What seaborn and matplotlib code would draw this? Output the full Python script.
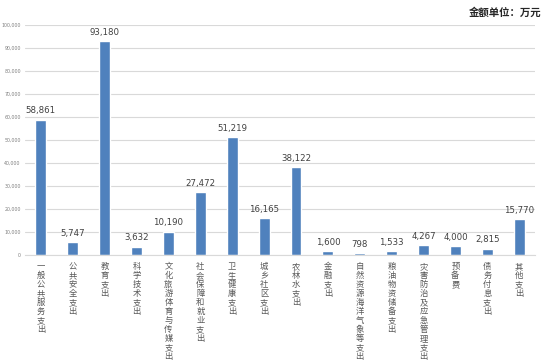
import matplotlib
matplotlib.use("Agg")
import matplotlib.pyplot as plt
import seaborn as sns
import pandas as pd
from matplotlib.ticker import FuncFormatter

categories = ["一般公共服务支出", "公共安全支出", "教育支出", "科学技术支出",
              "文化旅游体育与传媒支出", "社会保障和就业支出", "卫生健康支出", "城乡社区支出",
              "农林水支出", "金融支出", "自然资源海洋气象等支出", "粮油物资储备支出",
              "灾害防治及应急管理支出", "预备费", "债务付息支出", "其他支出"]
values = [58861, 5747, 93180, 3632, 10190, 27472, 51219, 16165,
          38122, 1600, 798, 1533, 4267, 4000, 2815, 15770]
yticks = list(range(0, 100001, 10000))

sns.set_theme(style="white")
plt.rcParams['font.family'] = ['Noto Sans CJK SC', 'DejaVu Sans']

df = pd.DataFrame({"cat": categories, "val": values})

fig = plt.figure(figsize=(5.54, 3.6), dpi=100)
ax = fig.add_axes([0.045, 0.2917, 0.921, 0.6389])
sns.barplot(data=df, x="cat", y="val", color="#4f81bd", width=0.34, saturation=1, ax=ax)

ax.set_ylim(0, 100000)
ax.set_yticks(yticks)
ax.yaxis.set_major_formatter(FuncFormatter(lambda v, p: f"{int(v):,}"))
ax.tick_params(axis='y', length=0, pad=3)
for t in ax.get_yticklabels():
    t.set_fontsize(3.4)
    t.set_color("#7f7f7f")
    t.set_family(['DejaVu Sans'])
ax.grid(axis='y', color="#d9d9d9", linewidth=0.8)
ax.set_axisbelow(True)
for s in ["top", "right", "left"]:
    ax.spines[s].set_visible(False)
ax.spines["bottom"].set_color("#d9d9d9")
ax.spines["bottom"].set_linewidth(0.8)
ax.set_xlabel("")
ax.set_ylabel("")

ax.set_xticks(range(len(categories)))
ax.set_xticklabels(["\n".join(c) for c in categories], fontsize=6, color="#595959",
                   linespacing=1.0, va="top")
ax.tick_params(axis='x', length=0, pad=5)
ax.set_xlim(-0.5, len(categories) - 0.5)

for cont in ax.containers:
    ax.bar_label(cont, labels=[f"{v:,}" for v in values], padding=3,
                 fontsize=6.2, color="#404040", family=['DejaVu Sans'])

fig.text(0.977, 0.965, "金额单位：万元", ha="right", va="center", fontsize=7.5,
         fontweight="bold", color="#262626")

fig.savefig("out.png", dpi=100)
